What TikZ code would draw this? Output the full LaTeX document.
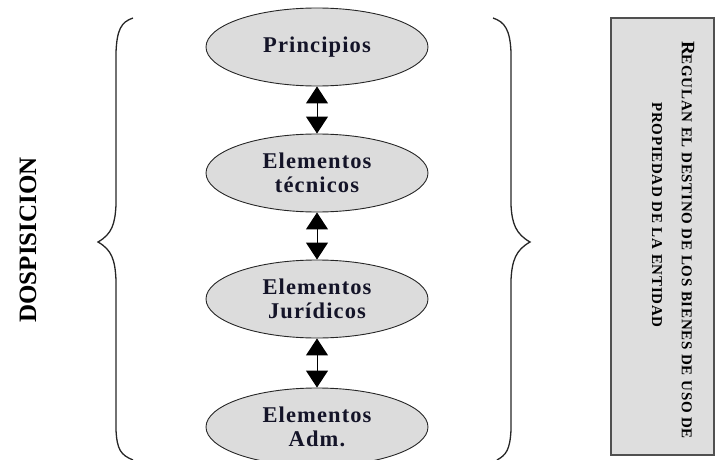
\documentclass[tikz,border=0pt]{standalone}
\usepackage{fontspec}
\setmainfont{Liberation Serif}
\newfontfamily\ellfont[LetterSpace=5]{Liberation Serif}
\newfontfamily\boxfont[LetterSpace=5]{Liberation Serif}
\usetikzlibrary{arrows.meta,shapes.geometric}
\definecolor{ellfill}{HTML}{DCDCDC}
\definecolor{boxfill}{HTML}{DEDEDE}
\definecolor{boxline}{HTML}{505050}
\definecolor{txt}{HTML}{141428}
\tikzset{
  elem/.style={ellipse, draw=black!85, line width=0.9pt, fill=ellfill, minimum width=222pt, minimum height=78pt, inner sep=0pt, align=center, text=txt, font=\ellfont\bfseries\fontsize{22.5}{24}\selectfont},
  link/.style={line width=1pt, {Triangle[width=22pt,length=17pt]}-{Triangle[width=22pt,length=17pt]}},
  brace/.style={line width=1.3pt, black!85},
}
\begin{document}
\begin{tikzpicture}[x=1pt,y=-1pt]
\useasboundingbox (0,0) rectangle (718,460);
\clip (0,0) rectangle (718,460);
% ellipses
\node[elem] (p) at (317,47) {Principios};
\node[elem] (t) at (317,173) {Elementos\\t\'ecnicos};
\node[elem] (j) at (317,299) {Elementos\\Jur\'idicos};
\node[elem] (a) at (317,427) {Elementos\\Adm.};
% arrows
\draw[link] (p.south) -- (t.north);
\draw[link] (t.south) -- (j.north);
\draw[link] (j.south) -- (a.north);
% left brace
\draw[brace] (133,18) .. controls (121,22) and (117,30) .. (116,52)
  -- (116,205) .. controls (115,224) and (112,234) .. (98,242)
  .. controls (112,250) and (115,260) .. (116,280)
  -- (116,430) .. controls (117,450) and (121,455) .. (133,460);
% right brace
\draw[brace] (493,18) .. controls (505,22) and (510,30) .. (511,52)
  -- (511,205) .. controls (512,224) and (516,234) .. (530,242)
  .. controls (516,250) and (512,260) .. (511,280)
  -- (511,430) .. controls (510,450) and (506,455) .. (497,460);
% left label
\node[rotate=90, font=\bfseries\fontsize{25}{30}\selectfont, inner sep=0pt] (d) at (28,240) {DOSPISICION};
% right box
\node[draw=boxline, line width=1.2pt, fill=boxfill, minimum width=103pt, minimum height=437pt, inner sep=0pt] (b) at (662.5,236.5) {};
\node[rotate=-90, inner sep=0pt, font=\boxfont\bfseries] (l1) at (688,240) {{\fontsize{19}{20}\selectfont R}{\fontsize{15}{16}\selectfont EGULAN EL DESTINO DE LOS BIENES DE USO DE}};
\node[rotate=-90, inner sep=0pt, font=\boxfont\bfseries\fontsize{15}{16}\selectfont] (l2) at (657,215) {PROPIEDAD DE LA ENTIDAD};
\end{tikzpicture}
\end{document}
